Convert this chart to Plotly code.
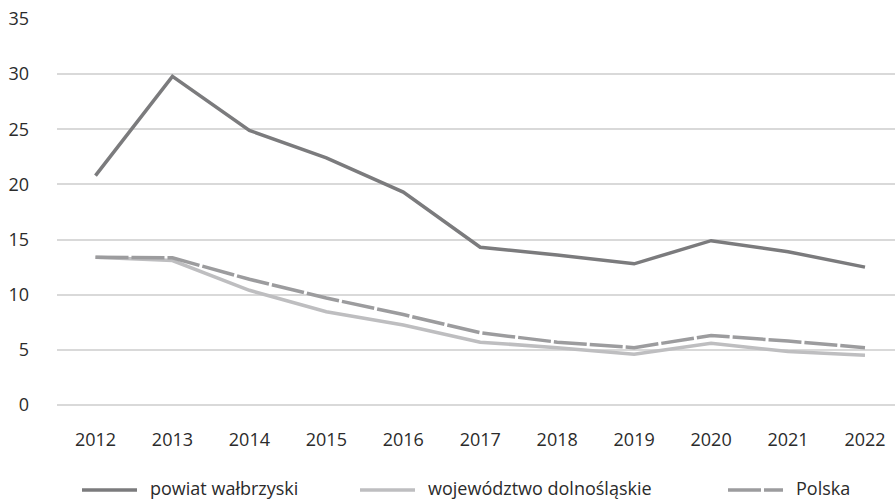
import plotly.graph_objects as go

years = ["2012", "2013", "2014", "2015", "2016", "2017", "2018", "2019", "2020", "2021", "2022"]
powiat = [20.8, 29.8, 24.9, 22.4, 19.3, 14.3, 13.6, 12.8, 14.9, 13.9, 12.5]
wojewodztwo = [13.4, 13.1, 10.4, 8.45, 7.25, 5.7, 5.2, 4.6, 5.6, 4.85, 4.5]
polska = [13.4, 13.35, 11.4, 9.7, 8.2, 6.55, 5.7, 5.2, 6.3, 5.8, 5.2]
y_ticks = [0, 5, 10, 15, 20, 25, 30, 35]

FONT = "Open Sans, Noto Sans, sans-serif"
TEXT = "#2b2b2b"
W, H = 895, 501
ML, MR, MT, MB = 57, 0, 19, 96
PW, PH = W - ML - MR, H - MT - MB

series = [
    ("powiat wałbrzyski", powiat, dict(color="#7b7b7d", width=3.5, dash="solid"), 82),
    ("województwo dolnośląskie", wojewodztwo, dict(color="#bebec0", width=3.5, dash="solid"), 360),
    ("Polska", polska, dict(color="#9c9c9e", width=3.5, dash="33px,3px"), 728),
]


def px_x(p):
    return (p - ML) / PW


def px_y(p):
    return (H - MB - p) / PH


fig = go.Figure()
shapes, annotations = [], []
LEG_Y = 490
for name, values, line, x0 in series:
    fig.add_trace(go.Scatter(x=years, y=values, mode="lines", name=name, line=line,
                             showlegend=False))
    # legend key: a 55 px sample of the line followed by the series name
    shapes.append(dict(type="line", xref="paper", yref="paper",
                       x0=px_x(x0), x1=px_x(x0 + 55), y0=px_y(LEG_Y), y1=px_y(LEG_Y),
                       line=dict(color=line["color"], width=line["width"],
                                 dash=line["dash"])))
    annotations.append(dict(text=name, xref="paper", yref="paper",
                            x=px_x(x0 + 67), y=px_y(LEG_Y - 2), xanchor="left",
                            yanchor="middle", showarrow=False, borderpad=0,
                            font=dict(family=FONT, size=18, color=TEXT)))

fig.update_layout(
    width=W, height=H,
    margin=dict(l=ML, r=MR, t=MT, b=MB),
    plot_bgcolor="white", paper_bgcolor="white",
    font=dict(family=FONT, size=18, color=TEXT),
    showlegend=False,
    shapes=shapes,
    annotations=annotations,
    xaxis=dict(type="category", range=[-0.5, 10.39], showgrid=False, zeroline=False,
               showline=False, ticks="", ticklabelstandoff=22,
               tickfont=dict(family=FONT, size=18, color=TEXT)),
    yaxis=dict(range=[0, 35], tickvals=y_ticks, showgrid=True, gridcolor="#d9d9d9",
               gridwidth=1.5, zeroline=True, zerolinecolor="#d9d9d9", zerolinewidth=1.5,
               showline=False, ticks="", ticklabelstandoff=27,
               tickfont=dict(family=FONT, size=18, color=TEXT)),
)

fig.write_html("out.html")
